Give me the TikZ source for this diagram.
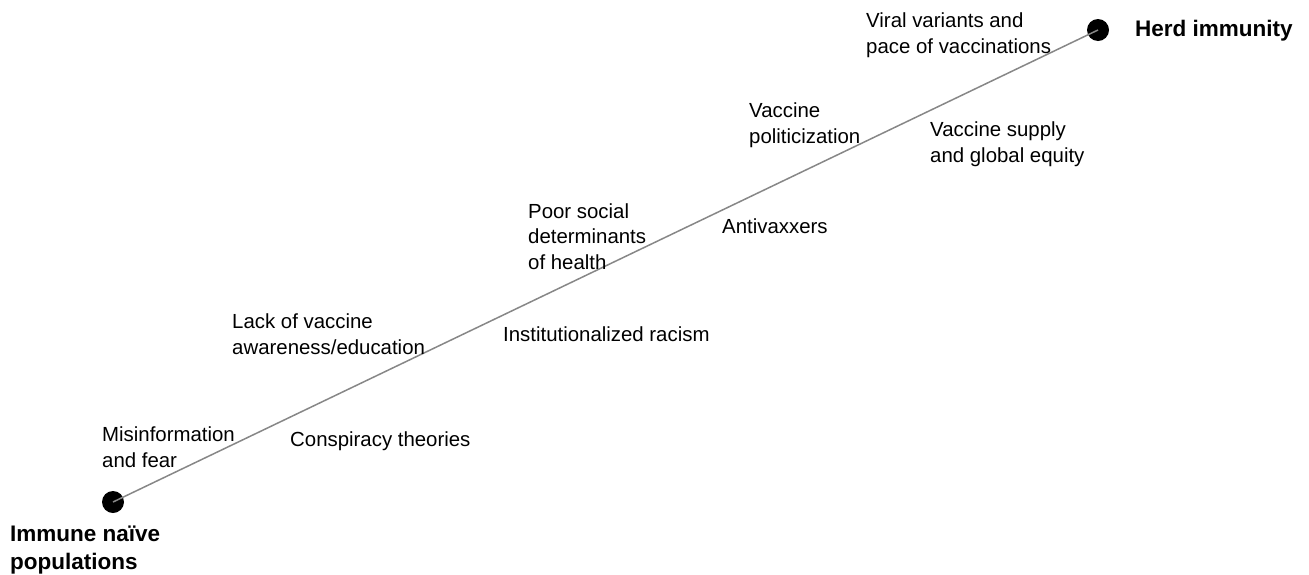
\documentclass[tikz,border=0pt]{standalone}
\usepackage{fontspec}
\setmainfont{Liberation Sans}
\begin{document}
\begin{tikzpicture}[x=1pt,y=-1pt,
  lbl/.style={anchor=base west,inner sep=0pt,align=left,font=\fontsize{20.4}{25.5}\selectfont},
  endlbl/.style={anchor=base west,inner sep=0pt,align=left,font=\fontsize{22.5}{28}\selectfont\bfseries},
  dot/.style={circle,fill=black,minimum size=22pt,inner sep=0pt},
  axis/.style={draw=black!47,line width=1.5pt}]
\useasboundingbox (0,0) rectangle (1309,574);
\node[dot] (start) at (113,502) {};
\node[dot] (end) at (1098,30) {};
\draw[axis] (start.center) -- (end.center);
\node[endlbl] (herd) at (1135,36) {Herd immunity};
\node[endlbl] (naive) at (10,569) {Immune naïve\\populations};
\node[lbl] (viral) at (866,53) {Viral variants and\\pace of vaccinations};
\node[lbl] (polit) at (749,143) {Vaccine\\politicization};
\node[lbl] (supply) at (930,162) {Vaccine supply\\and global equity};
\node[lbl] (poor) at (528,269) {Poor social\\determinants\\of health};
\node[lbl] (anti) at (722,233) {Antivaxxers};
\node[lbl] (lack) at (232,354) {Lack of vaccine\\awareness/education};
\node[lbl] (racism) at (503,341) {Institutionalized racism};
\node[lbl] (misinfo) at (102,467) {Misinformation\\and fear};
\node[lbl] (consp) at (290,446) {Conspiracy theories};
\end{tikzpicture}
\end{document}
